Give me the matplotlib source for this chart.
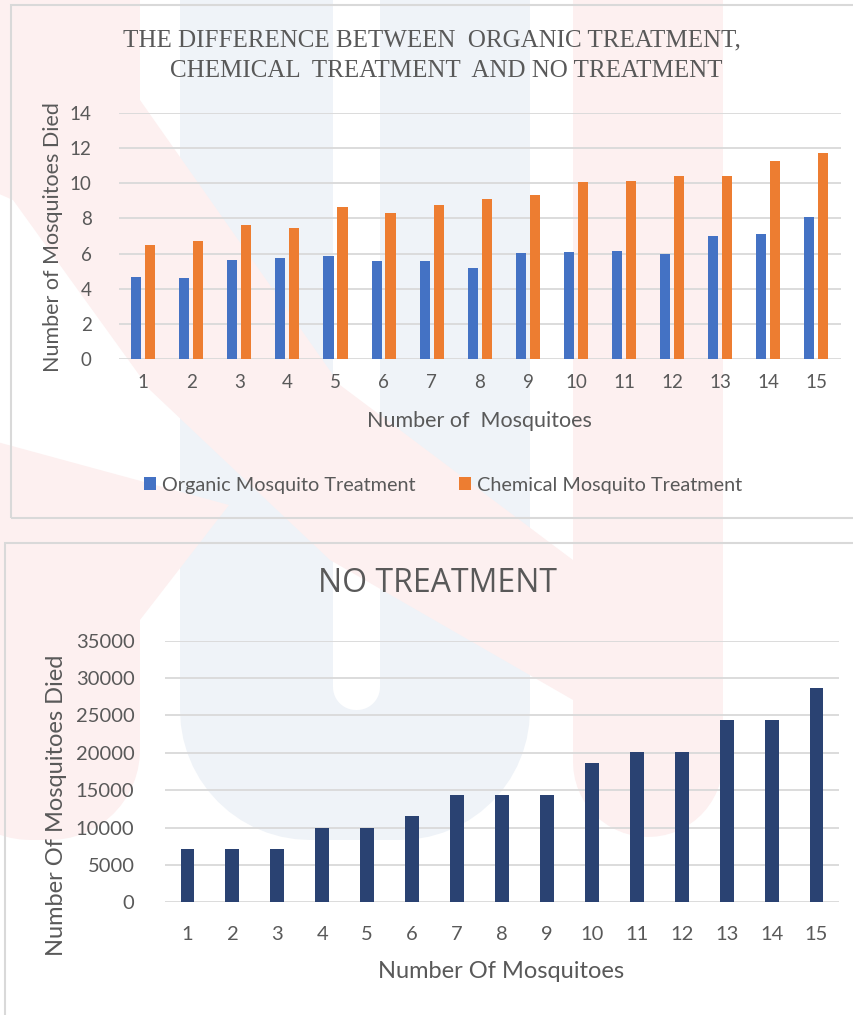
import matplotlib
matplotlib.use("Agg")
import matplotlib.pyplot as plt
from matplotlib.patches import Rectangle, Polygon
import numpy as np

# ---- data ----
categories = [str(i) for i in range(1, 16)]
organic = [4.68, 4.60, 5.65, 5.73, 5.86, 5.59, 5.59, 5.19, 6.03, 6.10, 6.16, 5.97, 7.02, 7.10, 8.07]
chemical = [6.50, 6.70, 7.61, 7.47, 8.64, 8.31, 8.77, 9.09, 9.36, 10.08, 10.13, 10.40, 10.40, 11.26, 11.72]
no_treatment = [7150, 7150, 7150, 10000, 10000, 11500, 14400, 14400, 14400, 18700, 20100, 20100, 24400, 24400, 28700]
top_yticks = [0, 2, 4, 6, 8, 10, 12, 14]
bot_yticks = [0, 5000, 10000, 15000, 20000, 25000, 30000, 35000]

W, H = 854, 1015
fig = plt.figure(figsize=(W / 100, H / 100), dpi=100)
fig.patch.set_facecolor("white")

def fx(px):
    return px / W

def fy(py):
    return 1 - py / H

def poly(pts, color, z=-10):
    p = Polygon([(fx(a), fy(b)) for a, b in pts], closed=True, transform=fig.transFigure,
                facecolor=color, edgecolor="none", zorder=z)
    fig.add_artist(p)

def ushape(x0, x1, ytop, ybot, r):
    # rectangle with rounded bottom corners, in pixel coordinates
    pts = [(x0, ytop), (x1, ytop)]
    for t in np.linspace(0, np.pi / 2, 15):
        pts.append((x1 - r + r * np.cos(t), ybot - r + r * np.sin(t)))
    for t in np.linspace(np.pi / 2, np.pi, 15):
        pts.append((x0 + r + r * np.cos(t), ybot - r + r * np.sin(t)))
    return pts

TXT = "#595959"
GRID = "#D9D9D9"
SANS = ["Lato", "DejaVu Sans"]
BLUE_W = "#EFF3F8"
PINK_W = "#FDF0F0"

# ---- faint watermark (approximate) ----
poly(ushape(180, 530, -20, 840, 130), BLUE_W, -12)
poly(ushape(333, 380, -20, 710, 23), "white", -11)
poly(ushape(573, 723, -20, 837, 75), PINK_W, -10)
poly([(-10, -10), (140, -10), (140, 100), (340, 385), (573, 560), (573, 700),
      (330, 560), (150, 390), (13, 200), (-10, 190)], PINK_W)
poly([(-10, 440)] + [(229, 505), (140, 620)] + ushape(-60, 140, 620, 840, 90)[2:], PINK_W)

# chart boxes
fig.add_artist(Rectangle((fx(11), fy(518)), fx(860) - fx(11), fy(5) - fy(518),
                         transform=fig.transFigure, fill=False, edgecolor=GRID, lw=1.5, zorder=-5))
fig.add_artist(Rectangle((fx(5), fy(1030)), fx(860) - fx(5), fy(543) - fy(1030),
                         transform=fig.transFigure, fill=False, edgecolor=GRID, lw=1.5, zorder=-5))

# ---- top chart ----
ax1 = fig.add_axes([fx(119.3), fy(358.7), fx(840.7) - fx(119.3), fy(113.3) - fy(358.7)])
x = np.arange(len(categories))
bw = 0.21
ax1.bar(x - 0.15, organic, bw, color="#4472C4", label="Organic Mosquito Treatment", zorder=3)
ax1.bar(x + 0.14, chemical, bw, color="#ED7D31", label="Chemical Mosquito Treatment", zorder=3)
ax1.set_xlim(-0.5, len(categories) - 0.5)
ax1.set_ylim(0, 14)
ax1.set_yticks(top_yticks)
ax1.set_xticks(x)
ax1.set_xticklabels(categories)
ax1.grid(axis="y", color=GRID, lw=1.3, zorder=0)
for s in ax1.spines.values():
    s.set_visible(False)
ax1.tick_params(length=0, labelsize=13.5, labelcolor=TXT)
ax1.xaxis.set_tick_params(pad=11)
ax1.yaxis.set_tick_params(pad=20)
for lab in ax1.get_xticklabels() + ax1.get_yticklabels():
    lab.set_family(SANS)
ax1.set_facecolor("none")

fig.text(fx(432), fy(40), "THE DIFFERENCE BETWEEN  ORGANIC TREATMENT,", ha="center", va="center",
         family=["Liberation Serif", "DejaVu Serif"], fontsize=18, color=TXT)
fig.text(fx(446), fy(71), "CHEMICAL  TREATMENT  AND NO TREATMENT", ha="center", va="center",
         family=["Liberation Serif", "DejaVu Serif"], fontsize=18, color=TXT)
fig.text(fx(479), fy(421), "Number of  Mosquitoes", ha="center", va="center",
         family=SANS, fontsize=15.5, color=TXT)
fig.text(fx(53), fy(237), "Number of Mosquitoes Died", ha="center", va="center", rotation=90,
         family=SANS, fontsize=15.5, color=TXT)
leg = ax1.legend(loc="center", bbox_to_anchor=(fx(443), fy(485)), bbox_transform=fig.transFigure,
                 ncol=2, frameon=False, prop={"family": SANS, "size": 14.3},
                 handlelength=0.6, handleheight=0.6, handletextpad=0.3, columnspacing=2.2)
for t in leg.get_texts():
    t.set_color(TXT)

# ---- bottom chart ----
ax2 = fig.add_axes([fx(165), fy(902.3), fx(839) - fx(165), fy(640.7) - fy(902.3)])
ax2.bar(x, no_treatment, 0.31, color="#2A4272", zorder=3)
ax2.set_xlim(-0.5, len(categories) - 0.5)
ax2.set_ylim(0, 35000)
ax2.set_yticks(bot_yticks)
ax2.set_xticks(x)
ax2.set_xticklabels(categories)
ax2.grid(axis="y", color=GRID, lw=1.3, zorder=0)
for s in ax2.spines.values():
    s.set_visible(False)
ax2.tick_params(length=0, labelsize=14.5, labelcolor=TXT)
ax2.xaxis.set_tick_params(pad=17)
ax2.yaxis.set_tick_params(pad=22)
for lab in ax2.get_xticklabels() + ax2.get_yticklabels():
    lab.set_family(SANS)
ax2.set_facecolor("none")

fig.text(fx(438), fy(583), "NO TREATMENT", ha="center", va="center",
         family=["Open Sans", "DejaVu Sans"], fontsize=23, color=TXT)
fig.text(fx(501), fy(972), "Number Of Mosquitoes", ha="center", va="center",
         family=SANS, fontsize=17, color=TXT)
fig.text(fx(57), fy(805), "Number Of Mosquitoes Died", ha="center", va="center", rotation=90,
         family=SANS, fontsize=17, color=TXT)

fig.savefig("out.png", dpi=100)
